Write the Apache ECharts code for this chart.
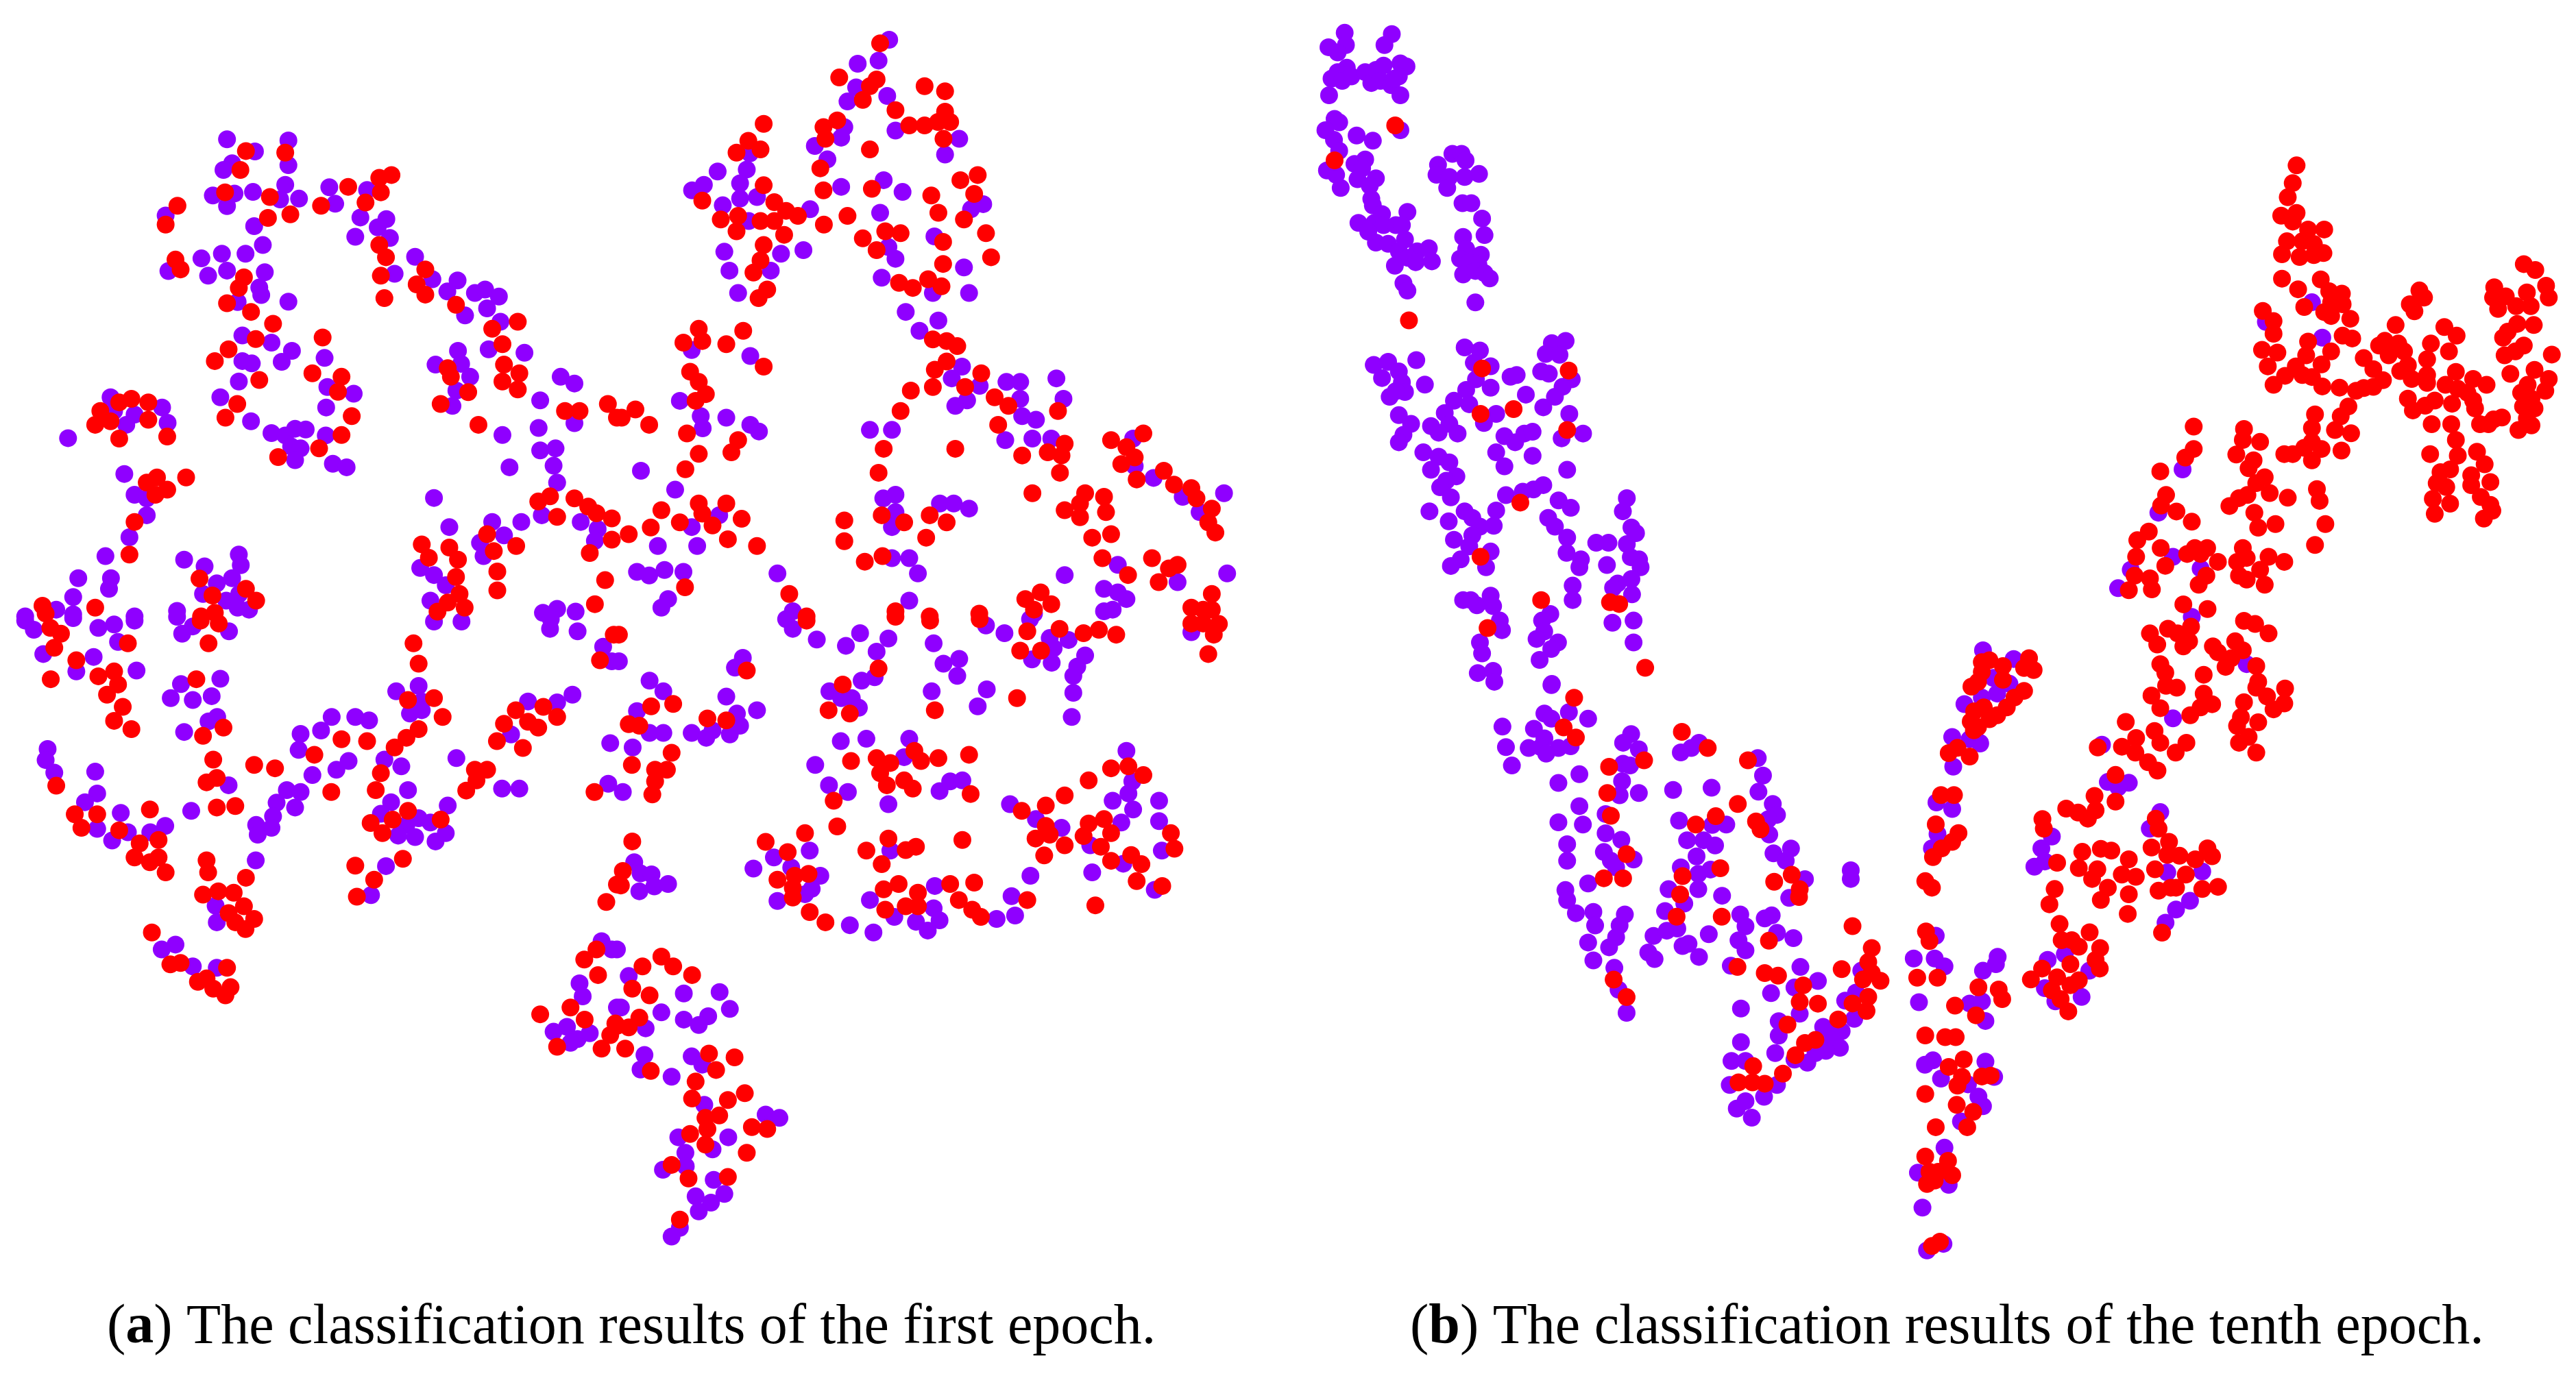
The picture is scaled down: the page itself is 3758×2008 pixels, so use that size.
<!DOCTYPE html>
<html><head><meta charset="utf-8"><style>html,body{margin:0;padding:0;background:#fff}#c{width:3758px;height:2008px}</style>
<script src="https://cdn.jsdelivr.net/npm/echarts@6/dist/echarts.min.js"></script></head><body><div id="c"></div>
<script>
// Point readings per reference crop: flat x,y lists in the crop's own reading units.
const epoch1TopLeftPurple=[577,354,733,357,648,385,590,415,568,432,733,420,725,470,541,497,596,492,643,488,577,524,712,507,760,505,421,548,646,575,837,476,852,518,933,483,916,553,982,557,960,578,903,602,991,605,668,623,624,645,564,645,512,657,428,689,577,688,529,701,673,692,659,731,664,750,604,768,733,767,1055,653,1003,696,1099,710,1163,713,1137,741,1207,745,1233,736,1268,754,1238,784,1182,802,1272,818,1242,888,1333,897,1164,892,1172,925,1107,927,1195,958,1160,993,1150,1032,616,853,690,871,742,892,716,920,616,918,640,924,825,910,607,970,832,984,899,1001,560,1010,829,1036,638,1071,690,1101,725,1107,750,1090,777,1092,828,1107,740,1135,764,1140,750,1170,846,1179,881,1188,1425,958,1460,975,1373,1018,1460,1076,1369,1088,1277,1106,1373,1145,1412,1140,1407,1184,1295,1188,1416,1227,1103,1266,1377,1310,1476,1327,1519,1345,1512,1375,1325,1327,1251,1327,1142,1340,1281,1361,1220,1380,1229,1414,1068,1444,1103,1462,1133,1488,1094,1527,281,1010,290,1045,412,1036,342,1054,321,1080,426,1075,173,1114,316,1205,342,1258,373,1267,373,1310,329,1366,268,1414,468,1423,520,1440,607,1410,612,1437,590,1470,551,1483,199,1470,282,1470,277,1497,186,1518,516,1510,608,1510,575,1527,604,1545,633,1550,64,1567,143,1550,186,1562,342,1567,450,1553,1380,1558,1416,1548,1463,1555];
const epoch1TopLeftRed=[625,384,725,388,611,432,572,489,686,501,451,523,421,571,738,545,681,554,816,523,885,475,964,452,995,445,968,489,929,515,964,623,981,654,968,701,977,758,1081,685,1059,723,1081,749,1159,775,1251,836,1316,818,1277,875,1281,927,1320,949,1277,970,1316,990,446,660,459,685,620,705,607,732,577,771,638,793,694,823,650,862,820,858,581,888,546,918,794,949,868,958,659,966,859,996,1138,936,1146,958,1190,997,1120,1027,603,1027,573,1062,894,1058,868,1106,811,1140,707,1162,1216,1080,1436,1045,1473,1045,1545,1027,1568,1062,303,1023,334,1014,377,1023,255,1045,377,1067,281,1071,242,1080,303,1115,425,1110,399,1214,373,1227,473,1214,425,1245,395,1258,342,1327,329,1410,1368,1275,1398,1262,1460,1267,1495,1288,1516,1305,1555,1318,1416,1314,1555,1372,1499,1406,1238,1358,1255,1401,1312,1388,1072,1384,1142,1392,1090,1418,1164,1423,1264,1453,1159,1467,1264,1501,1538,1475,1168,1510,1138,1532,1181,1545,1112,1555,1512,1536,507,1471,625,1497,540,1514,651,1527,108,1540,116,1560,242,1545,546,1558,511,1567];
const epoch1TopRightPurple=[692,101,612,162,665,154,608,222,687,244,586,258,578,323,570,350,503,371,535,405,708,332,870,353,834,393,338,390,330,431,256,436,313,466,221,470,191,484,313,505,356,501,269,522,570,475,678,458,726,488,491,532,669,541,335,562,900,532,931,519,807,601,690,628,708,658,273,640,417,645,474,636,286,688,391,688,673,706,882,680,308,745,803,745,895,745,734,793,817,815,769,841,190,890,339,905,877,932,851,962,990,971,1025,971,1117,962,922,981,1135,1014,1025,1014,890,1018,860,1032,160,1019,1030,1058,1065,1067,213,1058,278,1062,218,1089,339,1080,361,1097,643,1093,699,1093,987,1119,1056,1115,1104,1115,1312,1115,1316,1185,1364,1215,1543,1254,61,1197,148,1245,677,1267,708,1258,708,1302,821,1280,856,1280,895,1293,1438,1263,1481,1302,260,1310,190,1340,699,1340,104,1388,204,1388,699,1419,743,1419,765,1458,408,1458,51,1454,82,1463,121,1449,169,1454,1138,1462,1273,1436,1238,1497,1273,1506,1295,1523,1425,1480,1551,1458,130,1523,113,1545,743,1527,447,1554,1238,1554,1260,1550,1060,1560];
const epoch1TopRightRed=[669,110,565,197,660,202,643,219,625,254,782,219,834,232,708,280,834,284,560,306,525,323,530,353,743,319,782,319,816,310,847,310,830,353,373,315,334,358,304,388,365,380,643,380,517,428,917,445,873,458,373,471,525,484,648,480,799,497,908,493,217,510,400,514,430,536,460,549,308,549,264,558,365,562,400,562,817,541,586,549,882,558,304,588,526,571,425,597,682,588,721,593,938,593,625,606,829,615,373,623,660,636,951,654,365,662,347,693,829,671,791,710,717,719,752,732,825,728,382,736,360,758,208,836,321,841,169,871,217,867,278,875,803,863,838,867,865,880,838,919,808,940,373,932,186,945,926,949,208,971,885,984,803,984,747,993,226,1002,200,1019,960,1010,995,1032,1121,1045,721,1045,969,1080,47,1041,12,1062,82,1080,178,1102,308,1119,1256,1119,1338,1102,678,1141,860,1141,1138,1128,1295,1137,1095,1150,1130,1158,1030,1158,1316,1163,291,1150,208,1154,1282,1180,174,1193,665,1202,1126,1202,1390,1197,1321,1219,1416,1232,1056,1254,1460,1241,1473,1267,1190,1254,1238,1263,208,1280,278,1280,1177,1280,1138,1297,1243,1302,1512,1293,113,1297,217,1306,673,1310,795,1310,1177,1315,578,1323,317,1319,160,1328,243,1336,86,1341,730,1328,838,1328,1503,1328,1521,1354,786,1367,1208,1367,1256,1358,578,1376,282,1371,30,1358,356,1388,675,1414,630,1428,1234,1419,1360,1419,1403,1445,1425,1436,1299,1462,1377,1480,173,1493,438,1510,1077,1506,1038,1523,1104,1536,1512,1510,1060,1550,1460,1545,1490,1550,1512,1550,708,1554,795,1567,921,1560,482,1567];
const epoch1BottomLeftPurple=[64,8,86,27,186,3,250,23,290,16,342,8,300,52,450,0,490,20,463,35,582,30,110,77,238,83,194,113,347,111,1103,10,1173,10,460,139,434,168,490,172,560,128,538,164,552,207,530,216,468,238,1064,143,1007,154,1072,175,1042,200,1072,193,1533,62,1555,92,1398,25,1468,30,1400,5,1342,175,1416,177,1455,161,121,273,116,296,138,322,242,320,247,365,216,383,307,405,247,438,285,462,325,445,382,445,420,432,843,207,903,207,938,214,816,235,764,242,759,275,886,298,855,316,794,327,729,358,764,362,703,384,750,394,694,412,651,430,690,436,655,450,650,503,581,348,486,401,1299,243,977,295,1020,309,1160,292,1037,358,994,383,968,407,1138,390,1064,416,1033,430,1094,425,1133,447,1107,464,1012,452,1055,455,981,515,943,575,1276,355,1320,355,1551,261,1546,345,548,597,551,631,446,677,411,687,490,722,551,725,1529,670,1555,687,1473,757,1481,784,1568,807,1407,857,1441,847,1468,872,1499,860,1450,880];
const epoch1BottomLeftRed=[128,23,155,35,138,64,325,55,530,55,510,8,556,14,194,90,290,113,250,123,300,140,272,161,129,129,312,186,290,215,334,232,499,129,1051,55,1064,97,516,246,568,229,1037,172,1103,168,1125,207,1064,232,1033,250,1003,270,1525,90,1560,37,1381,186,1311,193,1416,207,1281,221,1342,217,1368,229,1263,257,1329,271,868,253,933,257,799,285,542,295,646,306,699,313,1207,316,1238,316,1211,338,1185,359,968,323,955,358,551,333,525,342,842,362,1511,362,143,349,551,394,598,391,381,398,190,408,247,408,207,436,303,441,403,461,355,468,342,497,403,497,381,507,421,528,1037,401,998,419,1120,419,942,426,972,447,525,503,529,528,903,514,1024,500,951,543,907,578,625,539,516,574,555,567,594,570,1541,589,1568,553,581,612,620,598,598,631,646,624,624,645,386,652,433,718,459,715,577,725,503,754,525,747,542,768,586,765,573,782,1516,687,1485,708,1520,740,1450,807,1486,832,1373,821,1551,864,1416,888,1529,892,1564,840];
const epoch1BottomRightPurple=[430,5,447,25,508,47,582,60,618,34,690,45,660,72,805,55,830,97,870,87,865,122,800,154,940,150,917,185,985,34,938,18,1050,5,1100,44,1148,48,1110,65,1055,88,1105,95,1190,80,1170,103,1160,122,1160,157,1156,207,1460,32,5,92,320,85,300,105,83,132,118,154,278,165,356,193,305,200,313,225,287,243,51,195,83,240,118,240,190,240,227,250,243,235,40,270,15,362,622,132,655,125,540,154,570,168,597,168,615,188,569,257,634,252,743,252,730,290,504,306,539,348,587,362,820,360,847,340,878,338,690,387,999,387,1065,418,1130,436,1295,277,1310,340,1300,365,1260,380,1312,398,1282,425,1378,380,1378,422,1385,483,1203,472,1208,528,1287,510,1367,564,490,483,399,497,347,520,443,518,517,535,495,562,478,573,408,587,695,483,808,556,643,585,805,602,705,620,760,630,820,627,790,648,592,637,652,652,965,624,1012,617,1003,577,1051,535,44,507,60,530,88,532,95,557,130,552,57,567,0,687,30,742,170,778,261,775,287,810,10,807,113,817,170,832,232,825,208,843,73,850,70,905,60,935,139,950,190,908,217,925,222,1008,378,1028,413,1035,156,1075,283,1075,243,1100,174,1107,175,1135,117,1142,246,1163,200,1197,239,1210,273,1192,208,1228,160,1262,139,1280];
const epoch1BottomRightRed=[482,8,708,0,796,8,922,5,5,37,330,111,665,107,574,140,1017,168,1125,25,1043,30,1186,34,1225,27,1269,37,1025,70,1078,70,1460,14,1490,14,1530,15,1517,37,1503,77,143,180,87,185,230,210,278,214,30,222,57,225,538,193,592,200,808,193,139,281,38,306,97,316,127,316,97,340,90,367,595,298,660,292,695,302,756,277,773,298,817,292,895,285,669,323,686,348,730,338,752,355,899,366,551,380,1256,313,1300,309,1338,327,1199,338,1138,369,1090,390,1029,401,560,433,478,447,378,465,434,486,39,464,690,458,878,461,634,483,734,482,760,475,673,511,1090,432,1064,458,1100,450,1138,472,1086,493,1186,453,1199,427,1238,418,1256,447,1230,475,1256,504,1307,492,1333,511,1408,447,1417,479,1321,546,1386,556,1216,596,15,525,10,555,408,543,452,535,487,531,447,560,447,580,716,552,678,563,847,552,908,549,765,570,734,598,765,598,682,605,869,585,1043,585,490,610,530,631,903,605,925,620,113,702,65,722,143,722,191,740,39,768,83,782,57,828,30,848,0,845,21,892,86,938,234,902,299,910,252,936,200,960,191,995,282,998,325,984,260,1030,225,1035,230,1058,186,1068,343,1054,382,1058,225,1090,330,1107,139,1132,182,1160,282,1157,160,1245];
const epoch10UpperLeftPurple=[183,75,337,78,313,103,187,103,130,108,160,120,190,155,160,165,140,180,175,185,205,175,250,165,270,190,285,160,310,150,300,185,335,195,365,145,385,152,360,175,345,180,365,218,132,218,150,272,165,280,120,298,148,320,222,310,275,322,365,298,165,345,250,365,215,375,125,390,155,400,240,385,225,410,170,430,285,408,265,425,270,455,275,470,305,490,388,485,228,510,280,510,310,515,350,515,370,515,260,530,285,555,325,558,380,548,360,575,420,575,458,568,390,590,415,600,468,598,347,608,375,648,388,665,535,352,565,352,578,367,488,377,483,400,525,405,575,405,622,398,518,430,568,465,597,465,632,500,640,538,570,542,580,570,628,583,560,592,590,600,620,605,570,628,610,620,640,625,657,637,610,692,575,795,625,802,605,830,660,838,612,868,660,887,580,892,278,835,325,828,360,850,305,865,370,875,380,897,330,908,350,895,417,824,445,880,540,917,590,925,510,945,678,947,360,950,400,970,525,970,465,975,490,990,552,992,375,995,360,1012,638,968,725,862,745,858,775,903,832,932,860,785,905,780,840,810,885,812,825,850,850,855,925,868,895,885,870,908,917,947,892,1003,962,992,705,998,740,1012,770,992,797,988,678,1035,797,1043,705,1067,440,1035,490,1045,525,1058,465,1075,548,1090,515,1100,495,1115,530,1138,910,1075,710,1133,765,1125,800,1120,832,1110,882,1145,922,1162,460,1170,523,1193,575,1170,600,1185,678,1168,848,1185,870,1205,910,1230,625,1205,670,1203,600,1225,540,1235,590,1250,660,1262,562,1280,530,1295,645,1298,908,1265,955,1280,950,1298,1005,1242,1045,1242,1105,1245,1105,1140,1092,1170,1120,1207,1135,1220,1118,1275,1145,1280,1150,1298,1040,1293,1120,1325,1075,1335,1060,1345,1122,1360,928,1340,928,1373,570,1373,595,1373,615,1385,660,1363,668,1387,690,1420,697,1442,855,1405,828,1420,835,1445,810,1462,880,1470,858,1485,820,1510,625,1470,632,1495,1058,1425,1127,1420,1127,1470,618,1540,668,1535,672,1560,860,1565];
const epoch10UpperLeftRed=[348,287,150,367,393,733,632,843,915,848,735,936,627,947,910,984,757,1150,627,1274,825,1373,650,1437,1050,1378,1080,1382,1165,1528];
const epoch10LowerLeftPurple=[320,78,370,140,300,143,320,155,425,155,180,173,270,178,300,200,190,220,255,222,290,220,340,222,375,218,305,235,207,262,548,190,525,210,570,225,525,258,545,262,400,282,340,302,522,298,570,325,515,330,400,355,475,373,340,392,410,397,475,417,520,432,365,442,365,480,470,460,490,480,555,477,505,495,425,532,360,547,365,570,390,600,440,597,445,628,425,667,440,708,530,603,515,628,505,655,485,678,500,725,512,775,535,828,690,232,720,222,742,210,668,318,778,313,685,388,780,398,820,397,708,433,755,433,788,445,735,470,775,500,690,495,740,510,740,545,655,545,700,578,808,560,645,595,770,648,612,652,650,640,680,635,695,675,712,670,597,690,615,705,742,700,910,245,925,285,912,322,953,350,965,375,940,385,943,420,955,463,1005,452,990,480,1045,522,1000,565,950,605,930,612,860,603,875,630,855,662,875,685,965,645,1012,657,833,720,1032,723,1082,755,1015,770,948,783,862,818,1030,830,970,847,970,880,862,895,960,920,835,938,875,938,1052,942,1015,935,830,993,965,993,928,1020,850,1047,875,1030,893,1068,1097,860,1120,870,1150,870,1160,800,1120,890,1145,908,1105,915,1075,920];
const epoch10LowerLeftRed=[385,107,355,175,390,198,485,265,585,250,480,325,490,377,535,465,470,520,525,520,693,185,767,222,733,397,790,378,695,515,803,497,688,557,678,608,807,608,882,250,853,350,905,390,918,408,957,528,1007,512,1030,545,1028,563,942,663,852,723,930,737,968,743,498,752,535,792,1040,765,1030,803,1082,807,1150,728,995,855,1140,843,1075,890,1045,897,1018,925,982,967,897,950,855,987,895,987,930,990];
const epoch10LowerMidPurple=[243,730,180,782,240,782,268,800,195,882,235,1015,212,1025,385,1018,258,1057,410,1053,335,1070,365,1098,378,1120,315,1155,268,1215,192,1272,280,1300,205,1352,218,1450,265,1435,420,778,415,795,378,810,340,885,375,880,385,925,15,860,0,580,0,600,10,920,30,810,325,200,290,275,340,280,370,290,293,343,245,425,290,440,248,497,232,530,795,380,735,378,765,390,575,503,545,530,525,572,555,560,885,447,855,485,905,585,1005,583,970,650,930,670,900,700,563,785,612,772,682,810,555,850,585,880,660,870];
const epoch10LowerMidRed=[5,708,60,758,50,790,35,830,60,815,85,833,50,870,5,885,45,902,215,720,225,742,190,826,248,826,298,890,365,848,423,853,433,875,358,912,213,958,270,962,300,962,280,1030,323,1013,318,1053,305,1073,375,1052,400,1050,213,1092,303,1117,350,1133,243,1168,333,1168,213,1235,278,1245,225,1270,250,1270,290,1278,218,1298,240,1290,232,1440,255,1430,343,240,352,260,280,312,305,300,340,320,258,408,295,408,243,475,308,495,290,515,260,530,235,550,213,605,232,620,345,160,548,463,552,485,616,439,650,448,678,462,700,443,697,410,757,362,757,423,850,333,877,352,872,462,880,485,860,528,910,515,940,547,905,545,590,563,662,538,715,531,745,535,652,575,705,578,690,600,735,620,715,648,795,555,775,590,815,595,795,635,792,680,870,578,880,627,915,620,930,620,958,590,985,555,1020,530,1033,548,1005,623,1050,618,890,723,583,623,568,658,597,703,603,740,632,740,652,755,683,722,713,758,700,785,712,805,628,795,515,830,547,805,590,825,652,832,628,843,575,855,600,875,622,903];
const epoch10UpperRightPurple=[880,420,760,470,907,510,543,845,480,955,518,1067,590,1097,408,1100,375,1147,567,1220,710,1340,23,1305,103,1327,92,1390,50,1375,60,1415,20,1425,518,1478,15,1540,333,1545];
const epoch10UpperRightRed=[840,72,830,117,817,153,800,200,840,193,830,215,870,235,912,235,815,265,855,265,885,272,802,298,848,305,885,300,910,295,802,360,844,387,903,362,925,392,958,398,960,425,930,420,860,432,912,445,930,455,980,462,752,442,780,468,780,500,960,505,985,512,870,520,930,545,750,541,790,548,865,555,905,578,765,583,838,583,810,607,855,605,880,610,780,630,907,634,952,637,1160,390,1172,408,1135,425,1147,443,1098,478,1225,483,1257,505,1070,518,1055,530,1105,525,1120,545,1080,555,1015,562,1190,525,1237,545,1180,565,1040,590,1130,580,1110,595,1065,618,1140,615,1180,605,1180,625,1040,635,1015,638,995,645,1255,597,1300,615,1335,630,1228,630,1260,640,1285,650,1300,670,1245,678,1200,670,1175,683,1130,665,1143,695,1305,690,1318,730,1340,730,1375,713,1353,718,1432,323,1462,338,1355,382,1490,378,1497,408,1440,395,1385,405,1352,408,1365,437,1412,430,1450,430,1458,478,1415,475,1390,495,1378,510,1432,530,1410,545,1382,555,1505,553,1397,602,1460,592,1497,615,1442,630,1425,650,1488,645,1452,665,1430,685,1460,690,1440,715,1452,733,1418,745,975,685,955,710,888,705,880,740,940,745,982,753,957,797,880,775,860,790,905,793,808,806,830,806,880,822,703,742,745,775,700,770,683,807,728,822,715,842,572,736,572,793,550,815,485,850,1192,730,1243,730,1255,770,1188,806,1260,810,1310,800,1330,832,1240,845,1215,852,1205,880,1295,860,1345,877,1295,885,1230,890,1195,920,1240,932,1200,958,1320,915,1345,935,1350,950,1328,970,757,865,735,880,770,905,712,910,690,918,665,938,817,917,730,955,785,984,740,993,893,895,900,925,915,984,888,1037,500,910,487,937,527,952,567,978,455,1003,425,1025,422,1067,486,1045,575,1045,607,1045,555,1060,590,1060,635,1080,498,1090,700,1045,685,1080,710,1070,767,1067,808,1080,690,1115,710,1125,745,1100,757,1138,605,1115,585,1138,418,1115,458,1122,463,1150,403,1152,545,1188,608,1200,458,1262,477,1290,505,1250,530,1262,565,1245,545,1295,560,1282,703,1230,732,1238,767,1262,622,1295,635,1310,680,1282,700,1305,670,1325,655,1347,735,1345,740,1385,735,1400,485,1340,498,1362,598,1367,500,1395,528,1400,462,1420,485,1452,598,1415,620,1442,590,1450,563,1470,763,1422,810,1402,808,1440,780,1455,703,1437,695,1475,685,1497,740,1488,395,1487,422,1528,470,1510,485,1540,553,1540,385,1550,322,1552,715,1525,690,1540,735,1565,525,1565,420,1565,40,1330,20,1335,75,1345,143,1325,130,1350,155,1355,10,1385,75,1380,130,1408,105,1425,85,1450,60,1470,40,1480,10,1500,20,1360,25,1450,0,1460];

const captionA=['(','a',') The classification results of the first epoch.'];
const captionB=['(','b',') The classification results of the tenth epoch.'];

const READ_SPAN=1568;
function place(list,x0,y0,w,h){const out=[];for(let i=0;i<list.length;i+=2){out.push([x0+list[i]*w/READ_SPAN,y0+list[i+1]*h/READ_SPAN]);}return out;}

const aPurple=[].concat(place(epoch1TopLeftPurple,0,0,900,900),place(epoch1TopRightPurple,900,0,900,900),place(epoch1BottomLeftPurple,0,900,900,1108),place(epoch1BottomRightPurple,900,900,900,1108));
const aRed=[].concat(place(epoch1TopLeftRed,0,0,900,900),place(epoch1TopRightRed,900,0,900,900),place(epoch1BottomLeftRed,0,900,900,1108),place(epoch1BottomRightRed,900,900,900,1108));
const bPurple=[].concat(place(epoch10UpperLeftPurple,1880,0,700,1000),place(epoch10LowerLeftPurple,2100,950,800,1000),place(epoch10LowerMidPurple,2700,900,800,1000),place(epoch10UpperRightPurple,2880,200,878,900));
const bRed=[].concat(place(epoch10UpperLeftRed,1880,0,700,1000),place(epoch10LowerLeftRed,2100,950,800,1000),place(epoch10LowerMidRed,2700,900,800,1000),place(epoch10UpperRightRed,2880,200,878,900));

const PURPLE='#8f00ff',RED='#ff0000',SIZE=26;
function dots(idx,data,color,z){return {type:'scatter',xAxisIndex:idx,yAxisIndex:idx,data,symbol:'circle',symbolSize:SIZE,itemStyle:{color,opacity:1},z,silent:true,clip:false,animation:false};}
function axisX(i,min,max){return {type:'value',gridIndex:i,min,max,show:false,scale:true};}
function axisY(i){return {type:'value',gridIndex:i,min:0,max:2008,inverse:true,show:false,scale:true};}
const capStyle={fontFamily:'"Liberation Serif"',fontSize:82,color:'#000',fontWeight:'normal'};
function caption(parts,left){return {text:'{n|'+parts[0]+'}{b|'+parts[1]+'}{n|'+parts[2]+'}',left,top:1897,padding:0,textStyle:{...capStyle,rich:{n:{...capStyle},b:{...capStyle,fontWeight:'bold'}}}};}

const chart=echarts.init(document.getElementById('c'),null,{renderer:'canvas',width:3758,height:2008});
chart.setOption({animation:false,backgroundColor:'#fff',
 title:[caption(captionA,156),caption(captionB,2057)],
 grid:[{left:0,top:0,width:1879,height:2008},{left:1879,top:0,width:1879,height:2008}],
 xAxis:[axisX(0,0,1879),axisX(1,1879,3758)],yAxis:[axisY(0),axisY(1)],
 series:[dots(0,aPurple,PURPLE,2),dots(0,aRed,RED,3),dots(1,bPurple,PURPLE,2),dots(1,bRed,RED,3)]});
</script></body></html>
